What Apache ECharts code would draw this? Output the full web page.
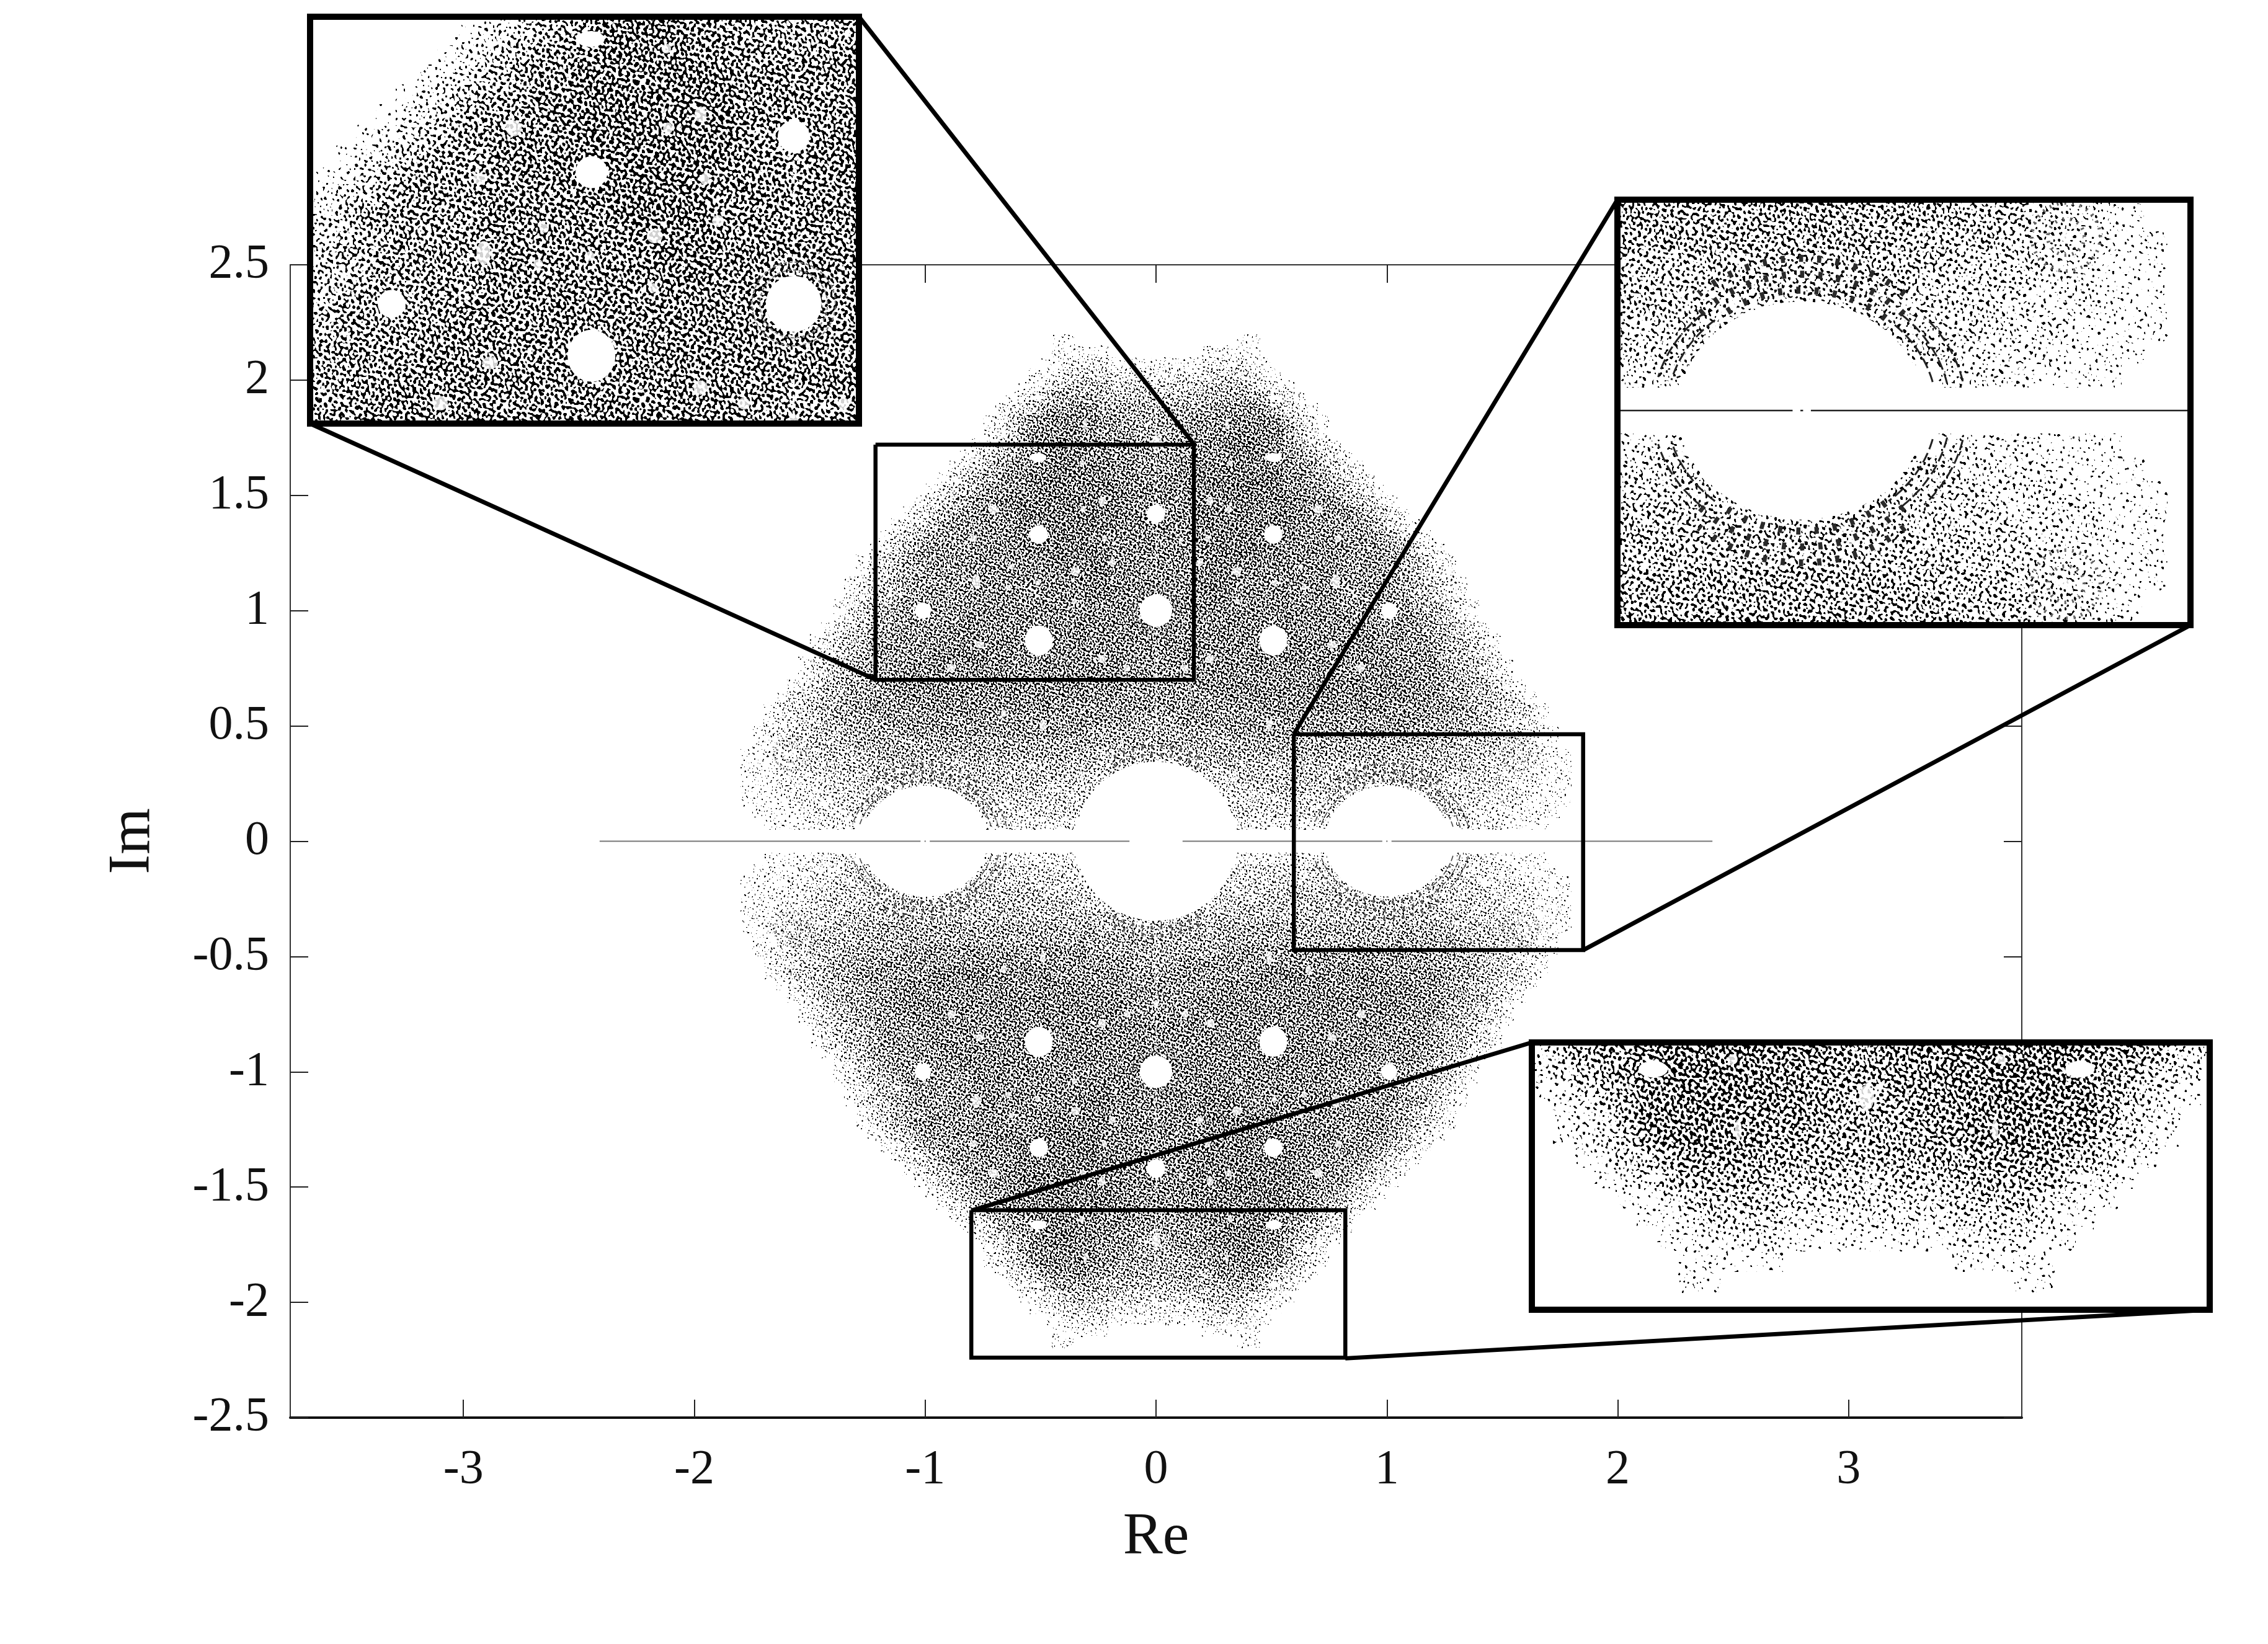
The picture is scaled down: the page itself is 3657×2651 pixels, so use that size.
<!DOCTYPE html>
<html><head><meta charset="utf-8">
<style>html,body{margin:0;padding:0;background:#fff}#c{width:3657px;height:2651px}</style>
<script src="https://cdn.jsdelivr.net/npm/echarts@6/dist/echarts.min.js"></script>
</head><body><div id="c"></div>
<script>
// ---------- values ----------
const xTicks = [-3,-2,-1,0,1,2,3];
const xExtent = [-3.75,3.75];
const yExtent = [-2.5,2.5];
// Upper-right quadrant density, read by eye. Row = Im centre, char k = Re 0.025+0.05k, digit = point density 0..9
const imRows = [2.175,2.125,2.075,2.025,1.975,1.925,1.875,1.825,1.775,1.725,1.675,1.625,1.575,1.525,1.475,1.425,1.375,1.325,1.275,1.225,1.175,1.125,1.075,1.025,0.975,0.925,0.875,0.825,0.775,0.725,0.675,0.625,0.575,0.525,0.475,0.425,0.375,0.325,0.275,0.225,0.175,0.125,0.075];
const densityRows = [
"000000011",
"000011111",
"1111222211",
"22223333211",
"333344443211",
"4444455554321",
"55555666654321",
"555667777764321",
"556667787775321",
"5666778887754321",
"66677788887654321",
"667778888876654321",
"7777888888877654321",
"77788888888776654321",
"777888888888776654321",
"7778888888887776654321",
"77788888888877766654321",
"777788888888777766654321",
"7777888888877777666654321",
"77778888877777776666654321",
"77778888777777776666554321",
"777788877777777766666554321",
"777788777777777766666544321",
"7777777777777777666666544321",
"7777777777777777766666654321",
"77777777777777777766666554321",
"777777777777777777766666544321",
"777777777777777777776666544321",
"6777777777777777777776666544321",
"6677777777777777777777666544321",
"66677777777777777777777665544321",
"666666777777777777777766655443321",
"6666666667777777777766666655443321",
"5566666666666666666666665555433221",
"55555566666666666666665555544433221",
"55555555555555555555555555444433211",
"444445555555555555555555444443332211",
"444444444444444444444444444333322111",
"333333344444444444444444433333222111",
"333333333344444433333333333332222111",
"333333333333333333333333333322221111",
"333333333333333333333333333222211110",
"000000022222222000000000002222111100"
];
// Clear gaps, quadrant values [Re, Im, half-width, half-height]
const gaps = [
[0,0,.35,.345],[1,0,.27,.24],
[0,1.0,.07,.07],[.508,.87,.06,.065],[0,1.42,.04,.04],[.508,1.33,.04,.04],[1.01,1.0,.035,.035],
[.51,1.664,.035,.02],[.32,1.64,.012,.012],[.234,1.475,.015,.02],[.703,1.44,.02,.02],[.316,1.44,.012,.015],
[.223,1.313,.012,.015],[.79,1.313,.015,.015],[.19,1.208,.015,.015],[.627,1.19,.012,.012],[.349,1.17,.02,.018],
[.779,1.128,.018,.03],[.642,1.10,.012,.012],[.512,1.12,.012,.012],[.763,.852,.02,.016],[.234,.79,.018,.018],
[.887,.751,.018,.018],[.125,.75,.015,.015],[.353,1.04,.012,.012],[.49,.503,.012,.025],[.66,.555,.012,.018],
[0,.565,.008,.012],[0,.706,.012,.018],[1.23,.79,.012,.012],[0,1.732,.018,.03],[.307,1.81,.008,.025],
[.51,1.925,.03,.01],[.52,2.05,.02,.008],[1.578,.382,.012,.012]
];
// Bands of ticks round the clear gaps: [Re, Im, Re radius, Im radius, from deg, to deg, kind]
const bands = [
[1,0,.285,.265,50,130,0],[1,0,.315,.30,45,135,0],[1,0,.35,.335,50,130,0],
[1,0,.295,.26,14,50,1],[1,0,.325,.285,12,48,1],[1,0,.36,.31,12,42,1],
[1,0,.295,.26,130,165,1],[1,0,.325,.285,132,165,1],
[0,0,.37,.375,60,120,0],[0,0,.40,.41,62,118,0],
[0,1,.085,.085,0,360,2],[0,1,.105,.105,0,360,2],
[1.578,.382,.04,.04,0,360,3],[1.578,.382,.075,.075,0,360,3]
];
const axisSegments = [[-2.41,-1.02],[-1.003,-.997],[-.98,-.115],[.115,.98],[.997,1.003],[1.02,2.41]];
const centreSeam = [[0,.4],[0,2.1]];
const insetExtents = [
  {re:[-1.215,.164], im:[.70,1.72]},
  {re:[.597,1.85],   im:[-.472,.464]},
  {re:[-.8,.82],     im:[-2.24,-1.6]}
];
// ---------- layout ----------
const plot = {left:468, top:427, width:2792, height:1859};
const unit = plot.width/(xExtent[1]-xExtent[0]);
const midX = plot.left+plot.width/2, midY = plot.top+plot.height/2;
const insetBoxes = [
  {left:500, top:27,  width:885, height:656, grain:1.8, from:[[1,0],[0,1]]},
  {left:2608,top:322, width:924, height:686, grain:1.9, from:[[0,0],[1,1]]},
  {left:2470,top:1681,width:1093,height:431, grain:1.8, from:[[0,0],[1,1]]}
];
const W=3657,H=2651;
// ---------- grain used as a fill style ----------
const WAVES=[[97,23,.3],[71,74,1.7],[29,103,4.1],[-31,97,2.2],[-69,71,5.3],[-101,19,.9],[113,-41,3.3],[53,-89,1.1],[17,-109,5.9],[-83,-61,2.7],
[61,37,4.7],[37,61,.6],[131,11,3.8],[-13,127,1.4],[147,59,2.9],[-121,83,.2],[89,131,5.1],[-47,151,3.6],[163,-29,1.9],[-139,-73,4.4],
[79,-127,.8],[-7,169,2.4],[43,-67,5.6],[-59,41,3.1],[83,3,1.2],[-19,79,4.9],[127,103,2.1],[-109,113,.5],[151,-97,3.9],[-167,37,1.6]];
const COVER=[0,.05,.10,.16,.23,.30,.37,.42,.47,.53];
function makeFills(scale){
  const N=512,v=new Float32Array(N*N);
  WAVES.forEach(w=>{
    const kx=Math.round(w[0]/scale)*2*Math.PI/N,ky=Math.round(w[1]/scale)*2*Math.PI/N;
    for(let y=0,i=0;y<N;y++)for(let x=0;x<N;x++,i++)v[i]+=Math.cos(kx*x+ky*y+w[2]);
  });
  const sorted=Float32Array.from(v).sort();
  const soft=1.0;
  return COVER.map((c,d)=>{
    if(!d)return null;
    const t=sorted[Math.floor(c*N*N)];
    const cv=document.createElement('canvas');cv.width=cv.height=N;
    const g=cv.getContext('2d'),img=g.createImageData(N,N);
    for(let i=0;i<N*N;i++){
      const a=Math.max(0,Math.min(1,(t-v[i])/soft+.5));
      img.data[i*4+3]=Math.round(a*255);
    }
    g.putImageData(img,0,0);
    return {image:cv,repeat:'repeat'};
  });
}
const fillsFine=makeFills(1.25), fillsCoarse=makeFills(2.1);
// ---------- mirrored data ----------
const cells=[];
imRows.forEach((im,r)=>{
  const row=densityRows[r];
  for(let k=0;k<row.length;k++){
    const d=+row[k]; if(!d)continue;
    const re=.025+.05*k;
    cells.push([re,im,d],[-re,im,d],[re,-im,d],[-re,-im,d]);
  }
});
function mirrored(list){
  const out=[];
  list.forEach(a=>{
    const xs=a[0]===0?[a[0]]:[a[0],-a[0]], ys=a[1]===0?[a[1]]:[a[1],-a[1]];
    xs.forEach(x=>ys.forEach(y=>out.push([x,y].concat(a.slice(2)))));
  });
  return out;
}
const gapData=mirrored(gaps), bandData=mirrored(bands);
// bands at Im = 0 also run through the lower half
bandData.slice().forEach(b=>{ if(b[1]===0) bandData.push([b[0],0,b[2],-b[3],b[4],b[5],b[6]]); });
const axisData=[];axisSegments.forEach(s=>{axisData.push([s[0],0],[s[1],0],[null,null]);});
const seamData=[centreSeam[0],centreSeam[1],[null,null],[0,-centreSeam[0][1]],[0,-centreSeam[1][1]]];

function boxLine(e){return [[e.re[0],e.im[1]],[e.re[1],e.im[1]],[e.re[1],e.im[0]],[e.re[0],e.im[0]],[e.re[0],e.im[1]]];}

function cloudSeries(xi,yi,z,fills,s,ext){
  const inExt=ext?(p,m)=>p[0]>=ext.re[0]-m&&p[0]<=ext.re[1]+m&&p[1]>=ext.im[0]-m&&p[1]<=ext.im[1]+m:()=>true;
  const base={type:'custom',coordinateSystem:'cartesian2d',xAxisIndex:xi,yAxisIndex:yi,silent:true,animation:false,progressive:0};
  return [
    Object.assign({},base,{z:z,data:cells.filter(c=>inExt(c,.05)),
      renderItem(p,api){
        const re=api.value(0),im=api.value(1),d=api.value(2);
        const a=api.coord([re-.025,im+.025]),b=api.coord([re+.025,im-.025]);
        const x0=Math.round(a[0]),y0=Math.round(a[1]),x1=Math.round(b[0]),y1=Math.round(b[1]);
        const shape=echarts.graphic.clipRectByRect({x:x0,y:y0,width:x1-x0,height:y1-y0},p.coordSys);
        return shape?{type:'rect',shape:shape,style:{fill:fills[d]}}:null;
      }}),
    {type:'line',xAxisIndex:xi,yAxisIndex:yi,z:z+1,silent:true,animation:false,symbol:'none',connectNulls:false,
     data:seamData,lineStyle:{color:'#fff',width:2*s,type:[7*s,7*s]}},
    Object.assign({},base,{z:z+2,data:gapData.filter(c=>inExt(c,.4)),
      renderItem(p,api){
        const c=api.coord([api.value(0),api.value(1)]),sz=api.size([api.value(2),api.value(3)]);
        return {type:'ellipse',shape:{cx:c[0],cy:c[1],rx:sz[0],ry:sz[1]},
          style:{fill:'#fff',opacity:api.value(2)<.025?.82:1},
          clipPath:{type:'rect',shape:{x:p.coordSys.x,y:p.coordSys.y,width:p.coordSys.width,height:p.coordSys.height}}};
      }}),
    Object.assign({},base,{z:z+3,data:bandData.filter(c=>inExt(c,.5)),
      renderItem(p,api){
        const cx=api.value(0),cy=api.value(1),rx=api.value(2),ry=api.value(3),a0=api.value(4),a1=api.value(5),kind=api.value(6);
        const pts=[];
        for(let i=0;i<=48;i++){
          const t=(a0+(a1-a0)*i/48)*Math.PI/180;
          pts.push(api.coord([cx+rx*Math.cos(t),cy+ry*Math.sin(t)]));
        }
        const dark=s>1;
        const style=kind===0?{lineWidth:6*s,lineDash:[3.5*s,12*s],stroke:dark?'#2a2a2a':'#555'}:
                    kind===1?{lineWidth:1.6*s,lineDash:[9*s,3.5*s],stroke:dark?'#222':'#444'}:
                    kind===2?{lineWidth:1.2*s,lineDash:[3*s,2*s],stroke:'#777'}:
                             {lineWidth:3*s,lineDash:[1.5*s,5*s],stroke:'#666'};
        style.fill=null;
        return {type:'polyline',shape:{points:pts},style:style,
          clipPath:{type:'rect',shape:{x:p.coordSys.x,y:p.coordSys.y,width:p.coordSys.width,height:p.coordSys.height}}};
      }}),
    {type:'line',xAxisIndex:xi,yAxisIndex:yi,z:z+4,silent:true,animation:false,symbol:'none',connectNulls:false,
     data:axisData,lineStyle:{color:s>1?'#222':'#777',width:s>1?2.5:2}}
  ];
}

const font='"Liberation Serif","DejaVu Serif",serif';
const grids=[Object.assign({},plot,{z:0}),
  {left:0,top:0,width:W,height:H,z:6}];
const xAxes=[
 {gridIndex:0,type:'value',min:xExtent[0],max:xExtent[1],position:'bottom',name:'Re',nameLocation:'middle',nameGap:146,
  nameTextStyle:{fontFamily:font,fontSize:96,color:'#111'},splitLine:{show:false},
  axisLine:{onZero:false,lineStyle:{color:'#111',width:4}},
  axisTick:{inside:true,length:29,customValues:xTicks,lineStyle:{color:'#222',width:2}},
  axisLabel:{customValues:xTicks,margin:46,fontFamily:font,fontSize:78,color:'#111'}},
 {gridIndex:0,type:'value',min:xExtent[0],max:xExtent[1],position:'top',splitLine:{show:false},
  axisLine:{onZero:false,lineStyle:{color:'#333',width:2}},
  axisTick:{inside:true,length:29,customValues:xTicks,lineStyle:{color:'#222',width:2}},axisLabel:{show:false}},
 {gridIndex:1,type:'value',show:false,min:(0-midX)/unit,max:(W-midX)/unit}
];
const yAxes=[
 {gridIndex:0,type:'value',min:yExtent[0],max:yExtent[1],interval:.5,position:'left',name:'Im',nameLocation:'middle',nameGap:205,
  nameTextStyle:{fontFamily:font,fontSize:96,color:'#111'},splitLine:{show:false},
  axisLine:{onZero:false,lineStyle:{color:'#333',width:2}},
  axisTick:{inside:true,length:29,lineStyle:{color:'#222',width:2}},
  axisLabel:{margin:34,fontFamily:font,fontSize:78,color:'#111'}},
 {gridIndex:0,type:'value',min:yExtent[0],max:yExtent[1],interval:.5,position:'right',splitLine:{show:false},
  axisLine:{onZero:false,lineStyle:{color:'#333',width:2}},
  axisTick:{inside:true,length:29,lineStyle:{color:'#222',width:2}},axisLabel:{show:false}},
 {gridIndex:1,type:'value',show:false,min:(midY-H)/unit,max:midY/unit}
];
let series=cloudSeries(0,0,2,fillsFine,1,null);
// source rectangles on the main axes
insetExtents.forEach(e=>series.push({type:'line',xAxisIndex:0,yAxisIndex:0,z:8,silent:true,animation:false,symbol:'none',
  clip:false,data:boxLine(e),lineStyle:{color:'#000',width:6.5,join:'miter'}}));
// connectors in overlay (same Re/Im units, wider range)
function toUnits(px,py){return [(px-midX)/unit,(midY-py)/unit];}
insetExtents.forEach((e,i)=>{
  const b=insetBoxes[i];
  const segs=[];
  b.from.forEach(f=>{
    segs.push(toUnits(b.left+f[0]*b.width,b.top+f[1]*b.height));
    segs.push([e.re[f[0]],e.im[1-f[1]]]);
    segs.push([null,null]);
  });
  series.push({type:'line',xAxisIndex:2,yAxisIndex:2,z:9,silent:true,animation:false,symbol:'none',clip:false,
    data:segs,connectNulls:false,lineStyle:{color:'#000',width:7}});
});
// insets
insetExtents.forEach((e,i)=>{
  const b=insetBoxes[i], gi=grids.length, xi=xAxes.length, yi=yAxes.length, z=20+i*10;
  grids.push({left:b.left,top:b.top,width:b.width,height:b.height,show:true,backgroundColor:'#fff',borderWidth:0,z:z});
  xAxes.push({gridIndex:gi,type:'value',show:false,min:e.re[0],max:e.re[1]});
  yAxes.push({gridIndex:gi,type:'value',show:false,min:e.im[0],max:e.im[1]});
  series=series.concat(cloudSeries(xi,yi,z+1,fillsCoarse,b.grain,e));
  series.push({type:'line',xAxisIndex:xi,yAxisIndex:yi,z:z+7,silent:true,animation:false,symbol:'none',clip:false,
    data:boxLine(e),lineStyle:{color:'#000',width:10,join:'miter',cap:'square'}});
});
const chart=echarts.init(document.getElementById('c'),null,{renderer:'canvas',width:W,height:H});
chart.setOption({backgroundColor:'#fff',animation:false,grid:grids,xAxis:xAxes,yAxis:yAxes,series:series});
</script></body></html>
